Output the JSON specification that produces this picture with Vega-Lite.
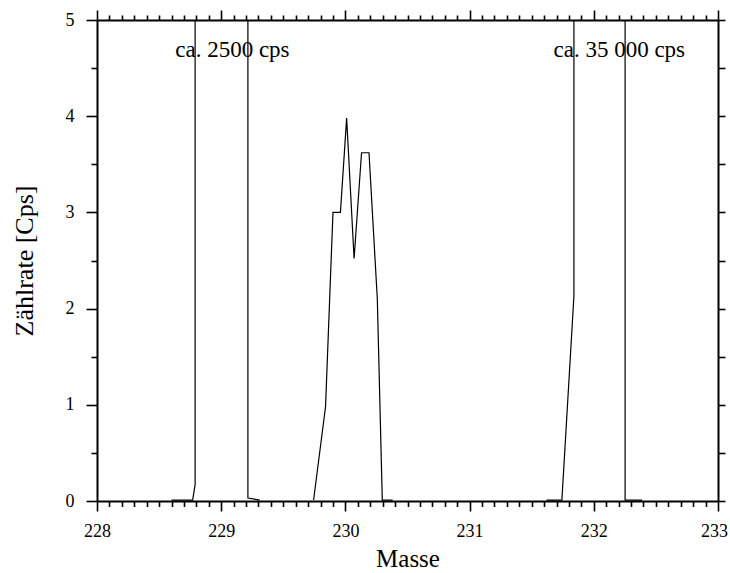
{
  "$schema": "https://vega.github.io/schema/vega-lite/v6.json",
  "width": 621,
  "height": 481,
  "autosize": "none",
  "padding": {"left": 97, "top": 20, "right": 12, "bottom": 72},
  "background": "white",
  "config": {
    "view": {"stroke": null},
    "font": "Liberation Serif",
    "axis": {
      "labelFont": "Liberation Serif",
      "titleFont": "Liberation Serif",
      "domainColor": "black",
      "tickColor": "black",
      "labelColor": "black",
      "titleColor": "black",
      "grid": false,
      "domainWidth": 2,
      "tickWidth": 1.6,
      "titleFontWeight": "normal",
      "labelFontSize": 18,
      "labelFlush": false
    }
  },
  "datasets": {
    "spectrum": [
      {"m": 228.60, "rate": 0.01, "seg": "a"},
      {"m": 228.77, "rate": 0.01, "seg": "a"},
      {"m": 228.79, "rate": 0.17, "seg": "a"},
      {"m": 228.792, "rate": 2500, "seg": "a"},
      {"m": 229.205, "rate": 2500, "seg": "a"},
      {"m": 229.215, "rate": 0.03, "seg": "a"},
      {"m": 229.31, "rate": 0.01, "seg": "a"},
      {"m": 229.744, "rate": 0.01, "seg": "b"},
      {"m": 229.84, "rate": 0.98, "seg": "b"},
      {"m": 229.90, "rate": 3.0, "seg": "b"},
      {"m": 229.96, "rate": 3.0, "seg": "b"},
      {"m": 230.01, "rate": 3.98, "seg": "b"},
      {"m": 230.07, "rate": 2.52, "seg": "b"},
      {"m": 230.13, "rate": 3.62, "seg": "b"},
      {"m": 230.19, "rate": 3.62, "seg": "b"},
      {"m": 230.257, "rate": 2.10, "seg": "b"},
      {"m": 230.297, "rate": 0.01, "seg": "b"},
      {"m": 230.38, "rate": 0.01, "seg": "b"},
      {"m": 231.62, "rate": 0.01, "seg": "c"},
      {"m": 231.743, "rate": 0.01, "seg": "c"},
      {"m": 231.84, "rate": 2.13, "seg": "c"},
      {"m": 231.845, "rate": 35000, "seg": "c"},
      {"m": 232.232, "rate": 35000, "seg": "c"},
      {"m": 232.252, "rate": 0.01, "seg": "c"},
      {"m": 232.39, "rate": 0.01, "seg": "c"}
    ],
    "notes": [
      {"m": 229.09, "rate": 4.62, "label": "ca. 2500 cps"},
      {"m": 232.205, "rate": 4.62, "label": "ca. 35 000 cps"}
    ]
  },
  "resolve": {"axis": {"x": "independent", "y": "independent"}},
  "layer": [
    {
      "data": {"name": "notes"},
      "mark": {"type": "text", "font": "Liberation Serif", "fontSize": 23, "align": "center", "baseline": "alphabetic", "color": "black"},
      "encoding": {
        "x": {"field": "m", "type": "quantitative", "scale": {"domain": [228, 233], "nice": false, "zero": false}, "axis": null},
        "y": {"field": "rate", "type": "quantitative", "scale": {"domain": [0, 5], "nice": false, "zero": false}, "axis": null},
        "text": {"field": "label"}
      }
    },
    {
      "data": {"name": "spectrum"},
      "mark": {"type": "line", "color": "black", "strokeWidth": 1.2, "clip": true},
      "encoding": {
        "x": {"field": "m", "type": "quantitative", "scale": {"domain": [228, 233], "nice": false, "zero": false},
          "axis": {"orient": "bottom", "values": [228, 229, 230, 231, 232, 233], "tickSize": 10, "labelPadding": 11, "labelFont": "Liberation Serif", "labelFontSize": 18, "labelOffset": {"condition": {"test": "datum.value >= 233", "value": -4}, "value": 0}, "title": "Masse", "titleFont": "Liberation Serif", "titleFontSize": 25, "titlePadding": 6}},
        "y": {"field": "rate", "type": "quantitative", "scale": {"domain": [0, 5], "nice": false, "zero": false},
          "axis": {"orient": "left", "values": [0, 1, 2, 3, 4, 5], "tickSize": 11, "labelPadding": 12, "labelFont": "Liberation Serif", "labelFontSize": 18, "title": "Zählrate [Cps]", "titleFont": "Liberation Serif", "titleFontSize": 26, "titlePadding": 28}},
        "detail": {"field": "seg"}
      }
    },
    {
      "data": {"name": "spectrum"},
      "mark": {"type": "point", "opacity": 0},
      "encoding": {
        "x": {"field": "m", "type": "quantitative", "scale": {"domain": [228, 233], "nice": false, "zero": false},
          "axis": {"orient": "bottom", "values": [228.1, 228.2, 228.3, 228.4, 228.5, 228.6, 228.7, 228.8, 228.9, 229.1, 229.2, 229.3, 229.4, 229.5, 229.6, 229.7, 229.8, 229.9, 230.1, 230.2, 230.3, 230.4, 230.5, 230.6, 230.7, 230.8, 230.9, 231.1, 231.2, 231.3, 231.4, 231.5, 231.6, 231.7, 231.8, 231.9, 232.1, 232.2, 232.3, 232.4, 232.5, 232.6, 232.7, 232.8, 232.9], "tickSize": 5.5, "labels": false, "domain": false, "title": null}},
        "y": {"field": "rate", "type": "quantitative", "scale": {"domain": [0, 5], "nice": false, "zero": false},
          "axis": {"orient": "left", "values": [0.5, 1.5, 2.5, 3.5, 4.5], "tickSize": 6, "labels": false, "domain": false, "title": null}}
      }
    },
    {
      "data": {"name": "spectrum"},
      "mark": {"type": "point", "opacity": 0},
      "encoding": {
        "x": {"field": "m", "type": "quantitative", "scale": {"domain": [228, 233], "nice": false, "zero": false},
          "axis": {"orient": "top", "values": [228, 229, 230, 231, 232, 233], "tickSize": 10, "labels": false, "title": null}},
        "y": {"field": "rate", "type": "quantitative", "scale": {"domain": [0, 5], "nice": false, "zero": false},
          "axis": {"orient": "right", "values": [0, 0.5, 1, 1.5, 2, 2.5, 3, 3.5, 4, 4.5, 5], "tickSize": 7, "labels": false, "title": null}}
      }
    },
    {
      "data": {"name": "spectrum"},
      "mark": {"type": "point", "opacity": 0},
      "encoding": {
        "x": {"field": "m", "type": "quantitative", "scale": {"domain": [228, 233], "nice": false, "zero": false},
          "axis": {"orient": "top", "values": [228.1, 228.2, 228.3, 228.4, 228.5, 228.6, 228.7, 228.8, 228.9, 229.1, 229.2, 229.3, 229.4, 229.5, 229.6, 229.7, 229.8, 229.9, 230.1, 230.2, 230.3, 230.4, 230.5, 230.6, 230.7, 230.8, 230.9, 231.1, 231.2, 231.3, 231.4, 231.5, 231.6, 231.7, 231.8, 231.9, 232.1, 232.2, 232.3, 232.4, 232.5, 232.6, 232.7, 232.8, 232.9], "tickSize": 5, "labels": false, "domain": false, "title": null}},
        "y": {"field": "rate", "type": "quantitative", "scale": {"domain": [0, 5], "nice": false, "zero": false}, "axis": null}
      }
    }
  ]
}
